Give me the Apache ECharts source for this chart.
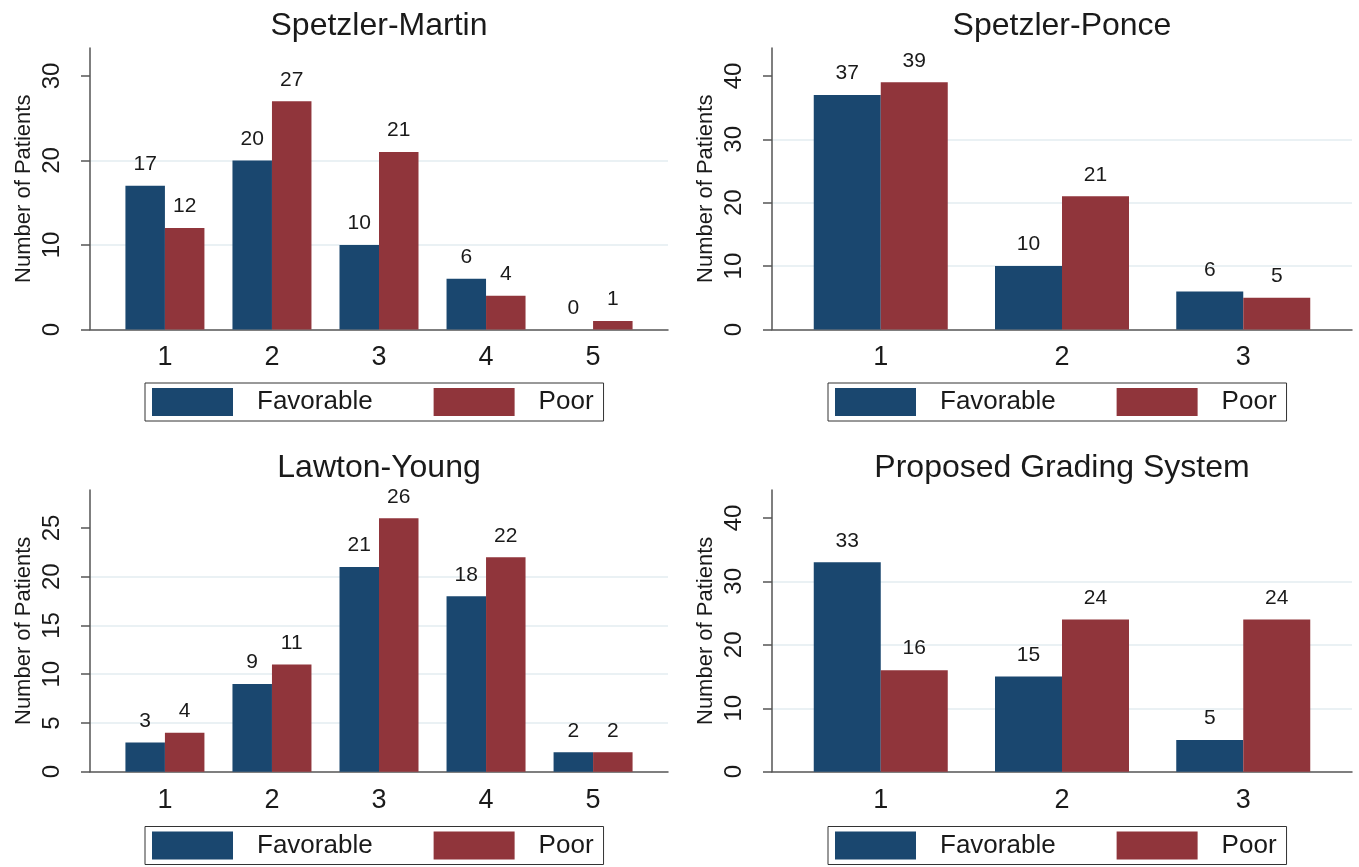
<!DOCTYPE html>
<html>
<head>
<meta charset="utf-8">
<title>Outcome by grade</title>
<script src="https://cdn.jsdelivr.net/npm/echarts@6/dist/echarts.min.js"></script>
<style>
    html, body { margin: 0; padding: 0; background: #fff; }
    #main { width: 1359px; height: 867px; }
</style>
</head>
<body>
<div id="main"></div>
<script>
// data
var seriesNames = ['Favorable', 'Poor'];

var smGrades = [1, 2, 3, 4, 5];
var smFavorable = [17, 20, 10, 6, 0];
var smPoor = [12, 27, 21, 4, 1];
var smTicks = [0, 10, 20, 30];

var spGrades = [1, 2, 3];
var spFavorable = [37, 10, 6];
var spPoor = [39, 21, 5];
var spTicks = [0, 10, 20, 30, 40];

var lyGrades = [1, 2, 3, 4, 5];
var lyFavorable = [3, 9, 21, 18, 2];
var lyPoor = [4, 11, 26, 22, 2];
var lyTicks = [0, 5, 10, 15, 20, 25];

var pgGrades = [1, 2, 3];
var pgFavorable = [33, 15, 5];
var pgPoor = [16, 24, 24];
var pgTicks = [0, 10, 20, 30, 40];

var FONT = '"Liberation Sans", Arial, Helvetica, sans-serif';
var BLUE = '#1a476f';
var RED = '#90353b';
var INK = '#1a1a1a';
var AXIS = '#555';
var GRID = '#e3edf0';

// one entry per panel: data refs + where it sits on the page
var panels = [
    { title: 'Spetzler-Martin', grades: smGrades, fav: smFavorable, poor: smPoor, ticks: smTicks, step: 10, yMax: 33.3,
      left: 90, top: 48, width: 578, height: 281.5, xMin: 0.3, xMax: 5.7, barWidth: 39.5,
      titleX: 379, titleTop: 10, legendLeft: 145, legendTop: 383 },
    { title: 'Spetzler-Ponce', grades: spGrades, fav: spFavorable, poor: spPoor, ticks: spTicks, step: 10, yMax: 44.4,
      left: 772, top: 48, width: 580, height: 281.5, xMin: 0.4, xMax: 3.6, barWidth: 67,
      titleX: 1062, titleTop: 10, legendLeft: 828, legendTop: 383 },
    { title: 'Lawton-Young', grades: lyGrades, fav: lyFavorable, poor: lyPoor, ticks: lyTicks, step: 5, yMax: 28.9,
      left: 90, top: 490, width: 578, height: 281.7, xMin: 0.3, xMax: 5.7, barWidth: 39.5,
      titleX: 379, titleTop: 452, legendLeft: 145, legendTop: 826.5 },
    { title: 'Proposed Grading System', grades: pgGrades, fav: pgFavorable, poor: pgPoor, ticks: pgTicks, step: 10, yMax: 44.4,
      left: 772, top: 490, width: 580, height: 281.7, xMin: 0.4, xMax: 3.6, barWidth: 67,
      titleX: 1062, titleTop: 452, legendLeft: 828, legendTop: 826.5 }
];

function barLabel() {
    return {
        show: true,
        position: 'top',
        distance: 11,
        fontSize: 21,
        fontFamily: FONT,
        color: INK,
        formatter: function (p) { return p.value[1]; }
    };
}

function pairs(grades, values) {
    return grades.map(function (g, k) { return [g, values[k]]; });
}

var option = {
    backgroundColor: '#fff',
    animation: false,
    title: [],
    legend: [],
    grid: [],
    xAxis: [],
    yAxis: [],
    series: []
};

panels.forEach(function (p, i) {
    option.title.push({
        text: p.title,
        left: p.titleX,
        top: p.titleTop,
        textAlign: 'center',
        padding: 0,
        textStyle: { fontSize: 32, fontWeight: 'normal', color: INK, fontFamily: FONT }
    });
    option.legend.push({
        left: p.legendLeft,
        top: p.legendTop,
        data: seriesNames,
        selectedMode: false,
        icon: 'rect',
        itemWidth: 81,
        itemHeight: 28,
        itemGap: 61,
        padding: [5, 10, 5, 7],
        borderColor: '#333',
        borderWidth: 1,
        textStyle: { fontSize: 26, fontFamily: FONT, color: INK, padding: [0, 0, 0, 19] }
    });
    option.grid.push({
        left: p.left,
        top: p.top,
        width: p.width,
        height: p.height,
        containLabel: false,
        outerBoundsMode: 'none'
    });
    option.xAxis.push({
        gridIndex: i,
        type: 'value',
        min: p.xMin,
        max: p.xMax,
        axisLine: { show: true, onZero: false, lineStyle: { color: AXIS, width: 1.5 } },
        axisTick: { show: false },
        axisLabel: { customValues: p.grades, fontSize: 27, margin: 15, color: INK, fontFamily: FONT },
        splitLine: { show: false }
    });
    option.yAxis.push({
        gridIndex: i,
        type: 'value',
        min: 0,
        max: p.yMax,
        interval: p.step,
        name: 'Number of Patients',
        nameLocation: 'middle',
        nameGap: 55,
        nameTextStyle: { fontSize: 22, color: INK, fontFamily: FONT },
        axisLine: { show: true, lineStyle: { color: AXIS, width: 1.5 } },
        axisTick: { show: true, length: 9, customValues: p.ticks, lineStyle: { color: AXIS, width: 1.5 } },
        axisLabel: { rotate: 90, margin: 26, fontSize: 24, color: INK, fontFamily: FONT, customValues: p.ticks },
        splitLine: { show: true, showMinLine: false, showMaxLine: false, lineStyle: { color: GRID, width: 1.5 } }
    });
    option.series.push({
        name: seriesNames[0],
        type: 'bar',
        xAxisIndex: i,
        yAxisIndex: i,
        data: pairs(p.grades, p.fav),
        barWidth: p.barWidth,
        barGap: '0%',
        itemStyle: { color: BLUE },
        label: barLabel()
    });
    option.series.push({
        name: seriesNames[1],
        type: 'bar',
        xAxisIndex: i,
        yAxisIndex: i,
        data: pairs(p.grades, p.poor),
        barWidth: p.barWidth,
        barGap: '0%',
        itemStyle: { color: RED },
        label: barLabel()
    });
});

var myChart = echarts.init(document.getElementById('main'), null, { renderer: 'canvas' });
myChart.setOption(option);
window.addEventListener('resize', myChart.resize);
</script>
</body>
</html>
